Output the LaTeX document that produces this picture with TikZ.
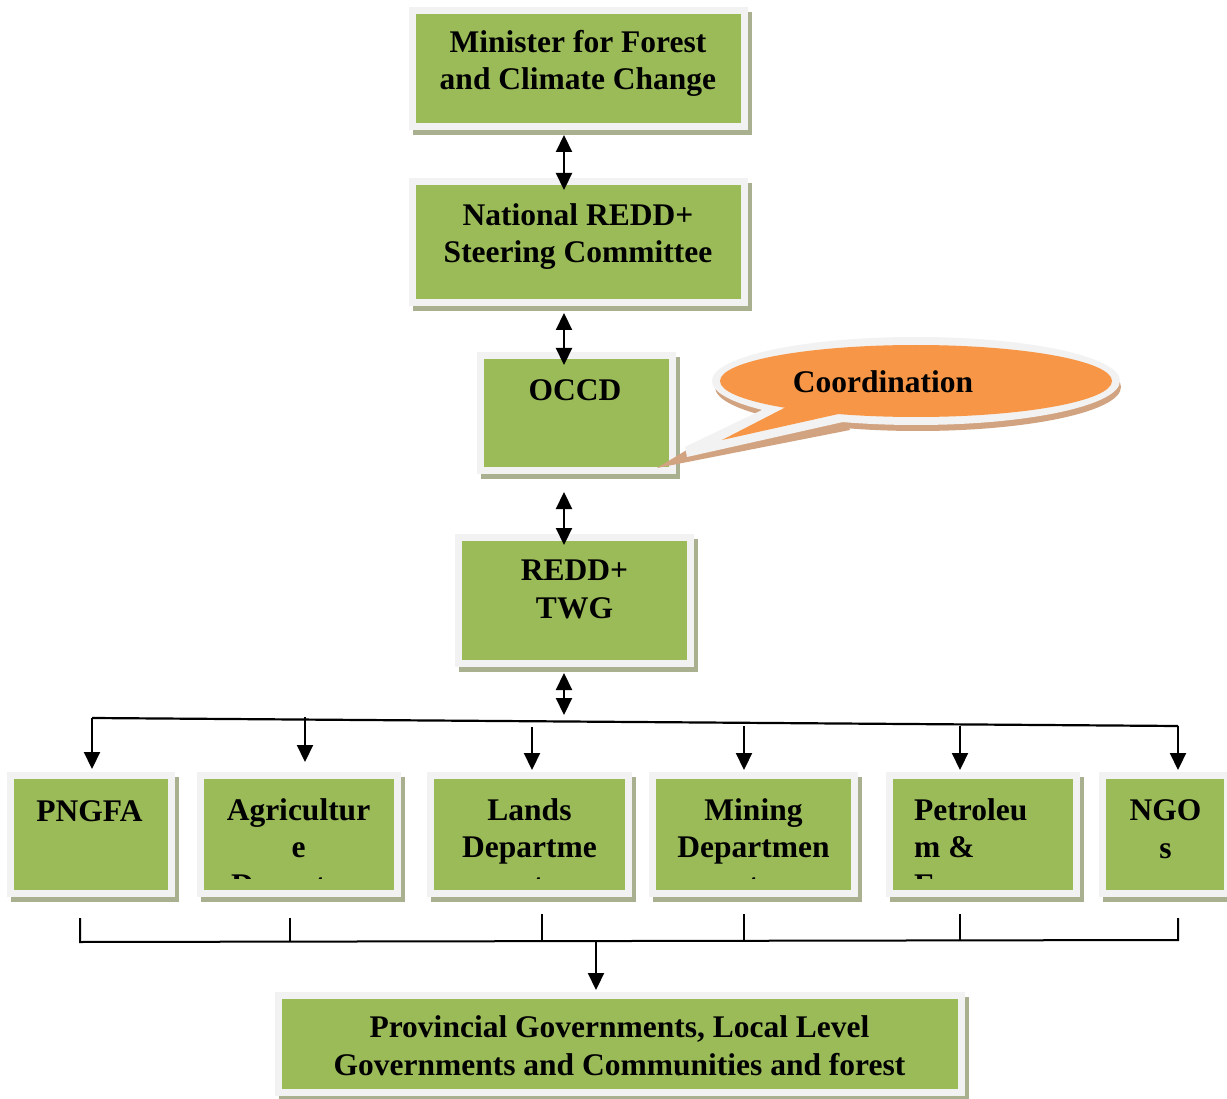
\documentclass[tikz,border=0pt]{standalone}
\usepackage{fontspec}
\setmainfont{Liberation Serif}
\usetikzlibrary{arrows.meta,calc,backgrounds}
\definecolor{boxgreen}{RGB}{155,187,89}
\definecolor{framegray}{RGB}{242,242,242}
\definecolor{boxshadow}{RGB}{168,176,144}
\definecolor{callorange}{RGB}{247,150,70}
\definecolor{callshadow}{RGB}{210,163,128}
\tikzset{
  orgbox/.style={rectangle, fill=boxgreen, draw=framegray, line width=7pt, inner sep=0pt, outer sep=3.5pt},
  lbl/.style={font=\bfseries\fontsize{31.5}{37.5}\selectfont, align=center, inner sep=0pt, anchor=base},
  lbll/.style={lbl, align=left, anchor=base west},
  conn/.style={line width=2.2pt, draw=black},
  tip/.style={-{Triangle[width=16pt,length=17pt]}},
  dtip/.style={{Triangle[width=16pt,length=17pt]}-{Triangle[width=16pt,length=17pt]}},
}
\begin{document}
\begin{tikzpicture}[x=1pt,y=-1pt]
\useasboundingbox (0,0) rectangle (1227,1099);
% boxes
\node[orgbox, minimum width=332pt, minimum height=116pt] (minister) at (578.5,68.5) {};
\node[orgbox, minimum width=332pt, minimum height=121pt] (steering) at (578.5,242) {};
\node[orgbox, minimum width=192pt, minimum height=115pt] (occd) at (576.5,413) {};
\node[orgbox, minimum width=232pt, minimum height=126pt] (twg) at (574.5,600.5) {};
\node[orgbox, minimum width=161pt, minimum height=118pt] (pngfa) at (91,834.5) {};
\node[orgbox, minimum width=197pt, minimum height=118pt] (agri) at (299,834.5) {};
\node[orgbox, minimum width=198pt, minimum height=118pt] (lands) at (529.5,834.5) {};
\node[orgbox, minimum width=202pt, minimum height=118pt] (mining) at (753.5,834.5) {};
\node[orgbox, minimum width=187pt, minimum height=118pt] (petro) at (983,834.5) {};
\node[orgbox, minimum width=125pt, minimum height=118pt] (ngo) at (1165,834.5) {};
\node[orgbox, minimum width=683pt, minimum height=97pt] (prov) at (620,1044) {};
\begin{scope}[on background layer]
\fill[white] (0,0) rectangle (1227,1099);
\foreach \b in {minister,steering,occd,twg,pngfa,agri,lands,mining,petro,ngo,prov}
  \fill[boxshadow] ($(\b.south west)+(4,5)$) rectangle ($(\b.north east)+(4,5)$);
\end{scope}
% labels (anchor = baseline of last line)
\node[lbl] (minister-t) at (578,90) {Minister for Forest\\and Climate Change};
\node[lbl] (steering-t) at (578,263) {National REDD+\\Steering Committee};
\node[lbl] (occd-t) at (575,401) {OCCD};
\node[lbl] (twg-t) at (574.5,618) {REDD+\\TWG};
\node[lbl] (prov-t) at (619.5,1075) {Provincial Governments, Local Level\\Governments and Communities and forest};
\begin{scope}
\clip (0,760) rectangle (1227,878);
\node[lbl] (pngfa-t) at (89.5,821) {PNGFA};
\node[lbl] (agri-t) at (298.5,895) {Agricultur\\e\\Departme};
\node[lbl] (lands-t) at (529.5,895) {Lands\\Departme\\nt};
\node[lbl] (mining-t) at (753.5,895) {Mining\\Departmen\\t};
\node[lbll] (petro-t) at (914,895) {Petroleu\\m \&\\Energy};
\node[lbl] (ngo-t) at (1165.5,858) {NGO\\s};
\end{scope}
% callout
\fill[callshadow] (918,387) ellipse [x radius=203pt, y radius=44pt];
\fill[callshadow] (657,468) -- (690,448) -- (845,418) -- (850,430) -- cycle;
\fill[framegray] (916,381) ellipse [x radius=204pt, y radius=44pt];
\fill[framegray] (764,409) -- (685,447) -- (687,457) -- (843,422) -- (850,414) -- cycle;
\fill[callorange] (916,381) ellipse [x radius=196pt, y radius=36pt];
\fill[callorange] (790,405) -- (722,440) -- (843,413) -- (845,405) -- cycle;
\node[lbl] (coord) at (883,393) {Coordination};
% connectors
\coordinate (spine) at (564,0);
\draw[conn,dtip] ($(minister.south -| spine)+(0,5)$) -- ($(steering.north -| spine)+(0,12)$);
\draw[conn,dtip] ($(steering.south -| spine)+(0,7)$) -- ($(occd.north -| spine)+(0,13)$);
\draw[conn,dtip] ($(occd.south -| spine)+(0,18)$) -- ($(twg.north -| spine)+(0,11)$);
\coordinate (busM) at (564,715);
\draw[conn,dtip] ($(twg.south -| spine)+(0,6)$) -- (busM);
\coordinate (busL) at (92,718);
\coordinate (busR) at (1178,726);
\coordinate (dA) at (305,717);
\coordinate (dL) at (532,727);
\coordinate (dM) at (744,726);
\coordinate (dP) at (960,726);
\draw[conn] (busL) -- (busR);
\draw[conn,tip] (busL) -- ($(pngfa.north -| busL)+(0,-3)$);
\draw[conn,tip] (dA) -- ($(agri.north -| dA)+(0,-10)$);
\draw[conn,tip] (dL) -- ($(lands.north -| dL)+(0,-2)$);
\draw[conn,tip] (dM) -- ($(mining.north -| dM)+(0,-2)$);
\draw[conn,tip] (dP) -- ($(petro.north -| dP)+(0,-2)$);
\draw[conn,tip] (busR) -- ($(ngo.north -| busR)+(0,-2)$);
% bottom bracket
\coordinate (brL) at (80,942);
\coordinate (brR) at (1178,940);
\coordinate (brM) at (596,941);
\draw[conn, line width=2pt] ($(brL)+(0,-24)$) -- (brL) -- (brR) -- ($(brR)+(0,-22)$);
\draw[conn, line width=2pt] (290,918) -- (290,942);
\draw[conn, line width=2pt] (542,914) -- (542,941);
\draw[conn, line width=2pt] (744,914) -- (744,941);
\draw[conn, line width=2pt] (960,914) -- (960,941);
\draw[conn,tip] (brM) -- ($(prov.north -| brM)+(0,-2)$);
\end{tikzpicture}
\end{document}
